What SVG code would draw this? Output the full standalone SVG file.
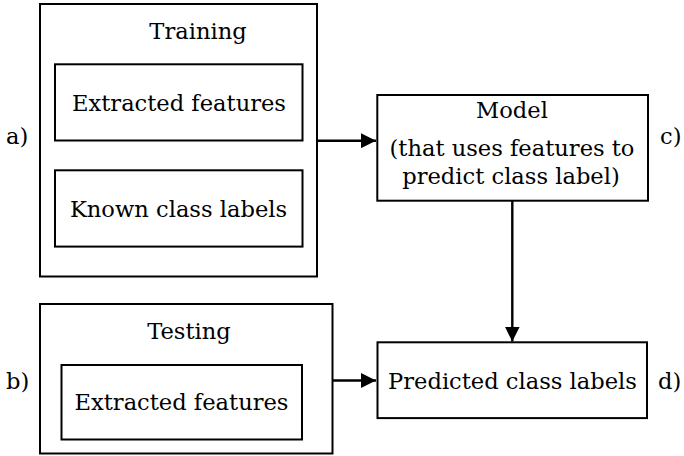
<svg xmlns="http://www.w3.org/2000/svg" width="684" height="456" viewBox="0 0 684 456">
  <style>
    .box { fill: #ffffff; stroke: #000000; stroke-width: 2; }
    .lbl { font-family: "DejaVu Serif", "Liberation Serif", serif; font-size: 22.6px; fill: #000000; }
    .mid { text-anchor: middle; }
    .edge { fill: none; stroke: #000000; stroke-width: 2.4; }
  </style>
  <defs>
    <marker id="arrow" viewBox="0 0 15 15" refX="15" refY="7.5" markerUnits="userSpaceOnUse" markerWidth="15" markerHeight="15" orient="auto">
      <path d="M0,0 L15,7.5 L0,15 Z" fill="#000000"/>
    </marker>
  </defs>

  <rect width="684" height="456" fill="#ffffff"/>

  <!-- training group -->
  <g id="training">
    <rect class="box" x="40" y="4" width="277" height="272.5"/>
    <text class="lbl mid" x="198" y="39">Training</text>
  </g>
  <g id="train-features">
    <rect class="box" x="55" y="64.3" width="247.5" height="76.2"/>
    <text class="lbl mid" x="179" y="111">Extracted features</text>
  </g>
  <g id="train-labels">
    <rect class="box" x="55" y="170.3" width="247.5" height="76.3"/>
    <text class="lbl mid" x="178.5" y="217">Known class labels</text>
  </g>

  <!-- testing group -->
  <g id="testing">
    <rect class="box" x="40" y="304" width="292.5" height="149.5"/>
    <text class="lbl mid" x="189" y="339">Testing</text>
  </g>
  <g id="test-features">
    <rect class="box" x="61.5" y="365" width="240.5" height="74.5"/>
    <text class="lbl mid" x="181.5" y="410">Extracted features</text>
  </g>

  <!-- model -->
  <g id="model">
    <rect class="box" x="377.3" y="95" width="270.7" height="105.7"/>
    <text class="lbl mid" x="512" y="118">Model</text>
    <text class="lbl mid" x="512" y="156">(that uses features to</text>
    <text class="lbl mid" x="511" y="184">predict class label)</text>
  </g>

  <!-- prediction -->
  <g id="predicted">
    <rect class="box" x="377.5" y="342.3" width="269.5" height="75.8"/>
    <text class="lbl mid" x="512.5" y="389">Predicted class labels</text>
  </g>

  <!-- side letters -->
  <g id="tags">
    <text class="lbl" x="6" y="144">a)</text>
    <text class="lbl" x="6" y="389">b)</text>
    <text class="lbl" x="660" y="144">c)</text>
    <text class="lbl" x="658" y="389">d)</text>
  </g>

  <!-- connectors -->
  <g id="connectors">
    <line class="edge" x1="317" y1="140.7" x2="376" y2="140.7" marker-end="url(#arrow)"/>
    <line class="edge" x1="332.5" y1="380.5" x2="376" y2="380.5" marker-end="url(#arrow)"/>
    <line class="edge" x1="512.3" y1="200.7" x2="512.3" y2="341.5" marker-end="url(#arrow)"/>
  </g>
</svg>
